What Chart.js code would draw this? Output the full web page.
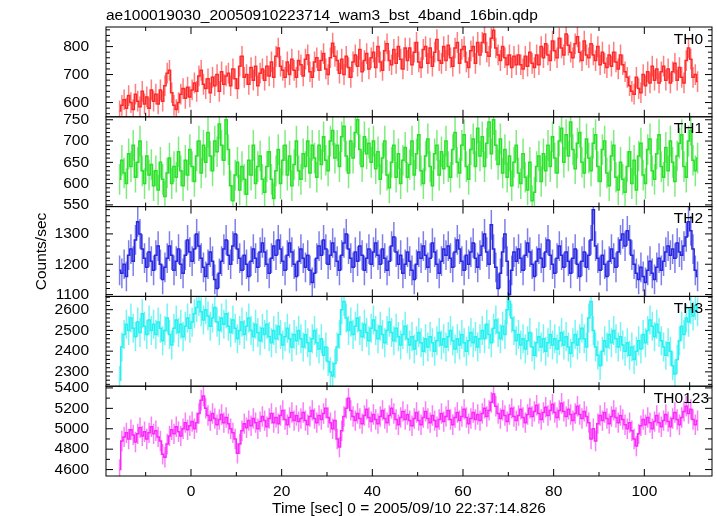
<!DOCTYPE html>
<html>
<head>
<meta charset="utf-8">
<title>ae100019030 wam3 bst 4band 16bin</title>
<script src="https://cdn.jsdelivr.net/npm/chart.js@4.4.1/dist/chart.umd.min.js"></script>
<style>
  html, body { margin: 0; padding: 0; background: #fff; }
  canvas { display: block; }
</style>
</head>
<body>
<canvas id="lcChart" width="717" height="516"></canvas>
<script>
// WAM light curve, 0.5 s bins (16 x 1/32 s), counts/sec per band
const firstBin = -15.75;
const binWidth = 0.5;
const bandNames = ['TH0', 'TH1', 'TH2', 'TH3', 'TH0123'];
const bandErrors = [37, 36, 49, 70, 100];  // typical 1-sigma error per bin

const th0Rate = [
  570, 590, 610, 580, 625, 600, 575, 630, 605, 585, 640, 595, 620, 580, 645, 605,
  630, 595, 645, 605, 660, 705, 715, 635, 590, 575, 600, 630, 650, 615, 655, 620,
  645, 670, 640, 695, 715, 665, 650, 685, 635, 690, 660, 700, 640, 710, 665, 695,
  705, 660, 720, 685, 650, 730, 765, 690, 700, 665, 725, 680, 730, 660, 705, 720,
  680, 730, 695, 745, 690, 765, 795, 730, 715, 690, 745, 700, 755, 715, 690, 750,
  735, 695, 755, 770, 710, 690, 745, 760, 715, 750, 775, 720, 700, 760, 812, 765,
  750, 705, 755, 700, 765, 725, 690, 745, 770, 730, 790, 710, 750, 775, 720, 760,
  780, 725, 800, 745, 715, 785, 810, 750, 735, 790, 740, 800, 755, 720, 795, 750,
  795, 735, 780, 815, 745, 725, 790, 800, 740, 795, 730, 780, 825, 750, 740, 800,
  750, 805, 760, 730, 795, 815, 740, 790, 800, 745, 725, 785, 800, 740, 815, 770,
  815, 845, 780, 765, 830, 858, 795, 770, 750, 800, 760, 735, 770, 725, 765, 735,
  770, 735, 720, 765, 730, 780, 740, 725, 770, 735, 800, 760, 810, 770, 750, 820,
  785, 760, 830, 795, 770, 845, 805, 780, 760, 810, 835, 780, 750, 820, 770, 760,
  810, 770, 750, 800, 735, 780, 740, 725, 770, 730, 780, 745, 720, 770, 735, 710,
  690, 660, 640, 630, 690, 650, 635, 700, 660, 710, 670, 730, 680, 720, 670, 710,
  730, 680, 720, 670, 710, 740, 680, 725, 690, 670, 750, 795, 755, 690, 700, 675
];
const th1Rate = [
  610, 655, 625, 600, 670, 640, 690, 615, 650, 700, 630, 600, 665, 620, 645, 595,
  630, 585, 650, 610, 570, 625, 660, 600, 640, 615, 675, 630, 595, 655, 620, 680,
  640, 605, 665, 700, 625, 690, 650, 720, 665, 630, 700, 675, 740, 690, 655, 750,
  680, 595, 560, 620, 650, 585, 640, 610, 575, 655, 620, 690, 600, 640, 665, 610,
  580, 640, 675, 610, 565, 630, 680, 600, 655, 690, 620, 665, 595, 645, 700, 630,
  610, 670, 640, 700, 625, 690, 660, 615, 690, 645, 710, 655, 630, 700, 725, 660,
  690, 640, 710, 735, 665, 625, 700, 660, 720, 750, 680, 640, 710, 670, 695, 650,
  700, 635, 675, 610, 660, 700, 620, 590, 650, 690, 615, 670, 600, 655, 685, 615,
  645, 700, 620, 670, 715, 630, 600, 665, 705, 640, 595, 670, 690, 620, 675, 635,
  700, 640, 615, 680, 720, 650, 625, 690, 715, 640, 610, 680, 705, 640, 730, 665,
  710, 640, 695, 745, 670, 750, 690, 645, 705, 625, 680, 615, 665, 595, 650, 690,
  625, 600, 670, 615, 585, 650, 560, 580, 640, 665, 605, 670, 630, 690, 640, 710,
  660, 625, 700, 730, 650, 715, 665, 745, 680, 635, 695, 720, 650, 625, 705, 660,
  630, 695, 715, 640, 605, 680, 700, 625, 595, 665, 690, 615, 585, 650, 610, 580,
  640, 675, 600, 655, 585, 665, 695, 620, 600, 680, 705, 630, 610, 670, 715, 640,
  615, 685, 630, 700, 650, 605, 665, 695, 715, 640, 615, 700, 725, 655, 630, 660
];
const th2Rate = [
  1180, 1170, 1200, 1160, 1230, 1250, 1210, 1280, 1340, 1300, 1250, 1220, 1190, 1240, 1210, 1180,
  1230, 1260, 1200, 1150, 1190, 1220, 1260, 1230, 1180, 1210, 1250, 1200, 1170, 1230, 1280, 1240,
  1210, 1250, 1300, 1260, 1220, 1190, 1160, 1200, 1240, 1210, 1150, 1120, 1170, 1210, 1250, 1280,
  1230, 1200, 1260, 1300, 1250, 1220, 1180, 1230, 1200, 1160, 1210, 1250, 1220, 1190, 1240, 1270,
  1240, 1200, 1170, 1220, 1260, 1230, 1280, 1250, 1210, 1180, 1230, 1270, 1240, 1200, 1160, 1210,
  1250, 1220, 1190, 1230, 1180, 1140, 1170, 1220, 1260, 1230, 1280, 1250, 1200, 1230, 1270, 1240,
  1210, 1180, 1230, 1270, 1300, 1250, 1220, 1190, 1240, 1210, 1260, 1230, 1180, 1220, 1250, 1200,
  1240, 1270, 1230, 1200, 1250, 1220, 1180, 1210, 1260, 1290, 1240, 1200, 1230, 1170, 1200, 1240,
  1210, 1180, 1150, 1200, 1240, 1220, 1260, 1230, 1190, 1220, 1270, 1240, 1200, 1170, 1210, 1250,
  1230, 1260, 1220, 1190, 1240, 1280, 1250, 1210, 1180, 1230, 1200, 1240, 1270, 1220, 1190, 1230,
  1260, 1300, 1240, 1200, 1330, 1250, 1190, 1120, 1170, 1240, 1300, 1210, 1100, 1180, 1240, 1210,
  1250, 1220, 1180, 1230, 1270, 1240, 1200, 1160, 1210, 1250, 1220, 1190, 1240, 1280, 1230, 1200,
  1170, 1220, 1260, 1230, 1190, 1240, 1210, 1170, 1220, 1250, 1200, 1160, 1210, 1240, 1190, 1230,
  1280, 1380, 1260, 1220, 1180, 1230, 1200, 1160, 1210, 1250, 1220, 1190, 1240, 1280, 1300, 1260,
  1310, 1280, 1230, 1200, 1170, 1150, 1190, 1160, 1140, 1180, 1210, 1170, 1150, 1190, 1220, 1180,
  1210, 1240, 1260, 1230, 1250, 1220, 1270, 1240, 1230, 1260, 1290, 1340, 1310, 1250, 1180, 1160
];
const th3Rate = [
  2260, 2420, 2480, 2530, 2500, 2560, 2510, 2470, 2540, 2490, 2580, 2520, 2480, 2550, 2500, 2530,
  2480, 2540, 2510, 2450, 2500, 2560, 2480, 2430, 2510, 2550, 2490, 2530, 2470, 2520, 2560, 2510,
  2540, 2580, 2610, 2640, 2590, 2550, 2600, 2570, 2520, 2560, 2610, 2540, 2500, 2560, 2530, 2580,
  2520, 2490, 2550, 2510, 2460, 2500, 2540, 2480, 2520, 2560, 2500, 2470, 2530, 2490, 2450, 2510,
  2480, 2530, 2470, 2440, 2500, 2460, 2520, 2480, 2430, 2470, 2510, 2460, 2420, 2480, 2450, 2500,
  2460, 2420, 2480, 2440, 2400, 2460, 2500, 2440, 2410, 2460, 2380, 2420, 2350, 2300, 2280, 2340,
  2420, 2480, 2600, 2640, 2560, 2500, 2540, 2480, 2520, 2560, 2500, 2470, 2530, 2490, 2450, 2510,
  2550, 2500, 2460, 2520, 2480, 2440, 2500, 2540, 2490, 2450, 2510, 2470, 2430, 2480, 2520, 2460,
  2430, 2470, 2410, 2450, 2490, 2440, 2400, 2460, 2420, 2470, 2440, 2400, 2450, 2490, 2430, 2460,
  2420, 2470, 2500, 2450, 2410, 2460, 2430, 2480, 2440, 2400, 2450, 2490, 2440, 2470, 2420, 2460,
  2500, 2460, 2530, 2480, 2440, 2510, 2550, 2490, 2460, 2520, 2480, 2600, 2640, 2560, 2500, 2450,
  2480, 2430, 2460, 2410, 2450, 2490, 2420, 2380, 2440, 2470, 2420, 2460, 2400, 2440, 2480, 2430,
  2460, 2410, 2450, 2490, 2430, 2470, 2420, 2390, 2440, 2480, 2430, 2460, 2510, 2460, 2420, 2560,
  2640, 2500, 2420, 2380, 2330, 2400, 2450, 2420, 2480, 2440, 2500, 2460, 2420, 2470, 2430, 2400,
  2440, 2380, 2420, 2360, 2400, 2450, 2410, 2480, 2440, 2500, 2550, 2520, 2470, 2530, 2490, 2450,
  2420, 2380, 2440, 2400, 2330, 2290, 2360, 2450, 2520, 2480, 2560, 2540, 2600, 2570, 2620, 2590
];
const th0123Rate = [
  4600, 4880, 4920, 4960, 4900, 4990, 4940, 4870, 4950, 5010, 4930, 4970, 4900, 4960, 5020, 4950,
  4980, 4920, 4880, 4750, 4720, 4850, 4930, 4990, 4950, 5020, 4970, 4930, 5000, 5060, 4990, 5030,
  5070, 5000, 5060, 5150, 5280, 5320, 5200, 5130, 5080, 5150, 5100, 5040, 5090, 5140, 5060, 5110,
  5050, 5000, 4960, 4900, 4760, 4850, 4980, 5050, 5010, 5080, 5030, 5100, 5060, 5000, 5070, 5120,
  5080, 5020, 5100, 5150, 5060, 5110, 5050, 5130, 5180, 5090, 5040, 5110, 5160, 5080, 5130, 5070,
  5100, 5160, 5080, 5040, 5120, 5180, 5100, 5060, 5130, 5090, 5150, 5200, 5110, 5060, 5000, 5080,
  4900, 4820, 4980, 5120, 5200, 5300, 5180, 5120, 5080, 5150, 5100, 5050, 5130, 5190, 5110, 5070,
  5140, 5090, 5050, 5120, 5180, 5100, 5060, 5130, 5200, 5150, 5090, 5040, 5110, 5170, 5090, 5140,
  5080, 5030, 5100, 5160, 5080, 5040, 5110, 5170, 5100, 5060, 5130, 5080, 5020, 5090, 5150, 5070,
  5120, 5180, 5090, 5040, 5110, 5160, 5080, 5120, 5190, 5110, 5050, 5100, 5160, 5090, 5140, 5080,
  5150, 5200, 5120, 5180, 5260, 5340, 5220, 5150, 5100, 5180, 5130, 5070, 5140, 5200, 5120, 5080,
  5130, 5190, 5110, 5060, 5140, 5200, 5120, 5170, 5230, 5150, 5090, 5160, 5210, 5130, 5180, 5240,
  5160, 5110, 5180, 5250, 5170, 5120, 5190, 5140, 5080, 5150, 5220, 5140, 5100, 5170, 5120, 5060,
  4900, 5000, 4880, 5050, 5130, 5080, 5160, 5100, 5050, 5120, 5180, 5110, 5060, 5130, 5090, 5040,
  5000, 5060, 4980, 4900, 4830, 4950, 5030, 5090, 5040, 5110, 5060, 5000, 5070, 5130, 5060, 5020,
  5080, 5140, 5070, 5020, 5100, 5160, 5090, 5040, 5110, 5170, 5220, 5150, 5190, 5090, 5040, 5080
];

// tick labels
const xTicks = [0, 20, 40, 60, 80, 100];
const th0Ticks = [600, 700, 800];
const th1Ticks = [550, 600, 650, 700, 750];
const th2Ticks = [1100, 1200, 1300];
const th3Ticks = [2300, 2400, 2500, 2600];
const th0123Ticks = [4600, 4800, 5000, 5200, 5400];

const FONT = '"Liberation Sans", Arial, Helvetica, sans-serif';
const rates = [th0Rate, th1Rate, th2Rate, th3Rate, th0123Rate];
const tickSets = [th0Ticks, th1Ticks, th2Ticks, th3Ticks, th0123Ticks];
const ranges = [[549, 870], [546, 757], [1094, 1390], [2231, 2664], [4537, 5417]];
const minorSteps = [20, 10, 20, 20, 100];
const lineColors = ['rgb(255,40,40)', 'rgb(40,225,40)', 'rgb(40,40,225)', 'rgb(40,240,240)', 'rgb(250,40,250)'];
const barColors = ['rgba(255,40,40,0.6)', 'rgba(40,225,40,0.6)', 'rgba(40,40,225,0.6)', 'rgba(40,240,240,0.65)', 'rgba(250,40,250,0.6)'];

const times = th0Rate.map((_, i) => firstBin + i * binWidth);

const datasets = rates.map((r, k) => ({
    label: bandNames[k],
    data: r.map((v, i) => ({x: times[i], y: v})),
    yAxisID: 'y' + k,
    borderColor: lineColors[k],
    borderWidth: 1.5,
    pointRadius: 0,
    stepped: 'middle',
    errorBar: bandErrors[k],
    errorColor: barColors[k]
}));

const tickFont = {family: FONT, size: 15.5};

const scales = {
    x: {
        type: 'linear',
        min: -18.75,
        max: 114.93,
        afterBuildTicks: s => { s.ticks = xTicks.map(v => ({value: v})); },
        afterFit: s => { s.height = 40; },
        grid: {display: false},
        border: {display: false},
        ticks: {color: '#000', font: tickFont, padding: -2, maxRotation: 0, autoSkip: false, callback: v => String(v)},
        title: {
            display: true,
            text: 'Time [sec] 0 = 2005/09/10 22:37:14.826',
            color: '#000',
            font: {family: FONT, size: 15.5, lineHeight: 1},
            padding: 0
        }
    }
};

rates.forEach((r, k) => {
    scales['y' + k] = {
        type: 'linear',
        position: 'left',
        stack: 'bands',
        weight: 5 - k,
        min: ranges[k][0],
        max: ranges[k][1],
        afterBuildTicks: s => { s.ticks = tickSets[k].map(v => ({value: v})); },
        afterFit: s => { s.width = 106; },
        grid: {display: false},
        border: {display: false},
        ticks: {color: '#000', font: tickFont, padding: 9, autoSkip: false, callback: v => String(v)},
        title: {
            display: k === 2,
            text: 'Counts/sec',
            color: '#000',
            font: {family: FONT, size: 15.5, lineHeight: 1},
            padding: {top: 34, bottom: 0}
        }
    };
});

// error bars, panel frames, inward ticks and band names
const panelDecor = {
    id: 'panelDecor',
    beforeDatasetsDraw(chart) {
        const ctx = chart.ctx;
        const area = chart.chartArea;
        const xs = chart.scales.x;
        chart.data.datasets.forEach(ds => {
            const ys = chart.scales[ds.yAxisID];
            ctx.save();
            ctx.beginPath();
            ctx.rect(area.left, ys.top, area.right - area.left, ys.bottom - ys.top);
            ctx.clip();
            ctx.strokeStyle = ds.errorColor;
            ctx.lineWidth = 1.5;
            ctx.beginPath();
            ds.data.forEach(p => {
                const px = xs.getPixelForValue(p.x);
                ctx.moveTo(px, ys.getPixelForValue(p.y + ds.errorBar));
                ctx.lineTo(px, ys.getPixelForValue(p.y - ds.errorBar));
            });
            ctx.stroke();
            ctx.restore();
        });
    },
    afterDatasetsDraw(chart) {
        const ctx = chart.ctx;
        const area = chart.chartArea;
        const xs = chart.scales.x;
        ctx.save();
        ctx.strokeStyle = '#000';
        ctx.lineWidth = 1;
        rates.forEach((r, k) => {
            const ys = chart.scales['y' + k];
            const top = ys.top, bottom = ys.bottom;
            ctx.strokeRect(area.left, top, area.right - area.left, bottom - top);
            ctx.beginPath();
            // y ticks, both sides
            const step = minorSteps[k];
            for (let v = Math.ceil(ys.min / step) * step; v <= ys.max; v += step) {
                const len = tickSets[k].includes(v) ? 7 : 4;
                const py = ys.getPixelForValue(v);
                ctx.moveTo(area.left, py); ctx.lineTo(area.left + len, py);
                ctx.moveTo(area.right, py); ctx.lineTo(area.right - len, py);
            }
            // x ticks, top and bottom of each panel
            for (let t = Math.ceil(xs.min / 10) * 10; t <= xs.max; t += 10) {
                const len = xTicks.includes(t) ? 7 : 4;
                const px = xs.getPixelForValue(t);
                ctx.moveTo(px, top); ctx.lineTo(px, top + len);
                ctx.moveTo(px, bottom); ctx.lineTo(px, bottom - len);
            }
            ctx.stroke();
            // band name
            ctx.fillStyle = '#000';
            ctx.font = '15.5px ' + FONT;
            ctx.textAlign = 'right';
            ctx.textBaseline = 'alphabetic';
            ctx.fillText(bandNames[k], k === 4 ? 709 : 703, top + 16.5);
        });
        ctx.restore();
    }
};

new Chart(document.getElementById('lcChart').getContext('2d'), {
    type: 'line',
    data: {datasets: datasets},
    options: {
        responsive: false,
        animation: false,
        devicePixelRatio: 1,
        layout: {padding: {left: 0, right: 5, top: 0, bottom: 0}},
        scales: scales,
        plugins: {
            legend: {display: false},
            tooltip: {enabled: false},
            title: {
                display: true,
                text: 'ae100019030_20050910223714_wam3_bst_4band_16bin.qdp',
                align: 'start',
                fullSize: false,
                color: '#000',
                font: {family: FONT, size: 15.5, weight: 'normal', lineHeight: 1.2},
                padding: {top: 6.4, bottom: 2}
            }
        }
    },
    plugins: [panelDecor]
});
</script>
</body>
</html>
